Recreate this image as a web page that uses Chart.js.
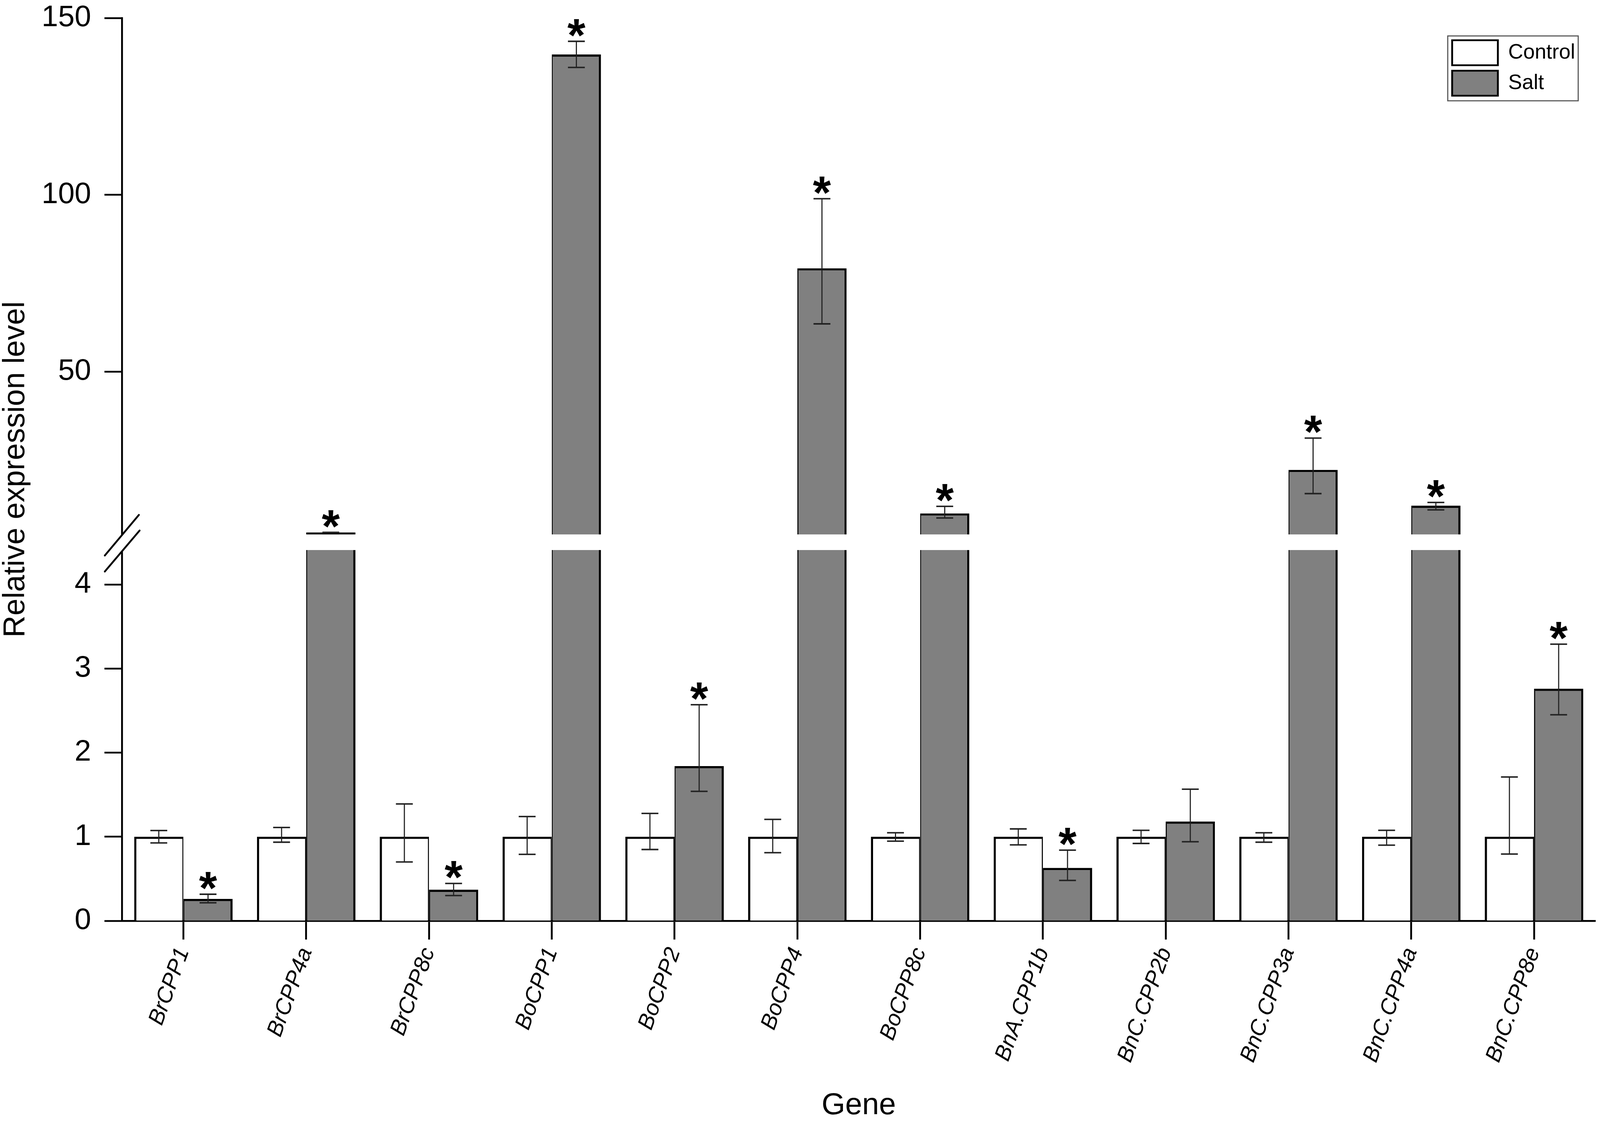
<!DOCTYPE html>
<html lang="en">
<head>
<meta charset="UTF-8">
<title>Relative expression level – Control vs Salt</title>
<script src="https://cdn.jsdelivr.net/npm/chart.js@4.4.0/dist/chart.umd.min.js"></script>
<style>
html,body{margin:0;padding:0;background:#fff;overflow:hidden}
#wrap{width:100vw;height:100vh;position:relative}
</style>
</head>
<body>
<div id="wrap"><canvas id="exprChart"></canvas></div>

<script>
/* ---------- data ---------- */
const genes = ['BrCPP1','BrCPP4a','BrCPP8c','BoCPP1','BoCPP2','BoCPP4','BoCPP8c',
               'BnA.CPP1b','BnC.CPP2b','BnC.CPP3a','BnC.CPP4a','BnC.CPP8e'];
const control        = [1, 1, 1, 1, 1, 1, 1, 1, 1, 1, 1, 1];
const controlErrUp   = [0.074, 0.11, 0.39, 0.24, 0.277, 0.206, 0.047, 0.093, 0.076, 0.047, 0.076, 0.71];
const controlErrDown = [0.074, 0.065, 0.30, 0.21, 0.152, 0.19, 0.053, 0.097, 0.08, 0.065, 0.10, 0.206];
const salt        = [0.26, 4.5, 0.37, 139.7, 1.84, 79.2, 9.9, 0.63, 1.18, 22.2, 12.1, 2.76];
const saltErrUp   = [0.056, 0.05, 0.074, 3.7, 0.73, 19.7, 2.0, 0.21, 0.385, 9.0, 0.9, 0.53];
const saltErrDown = [0.046, 0.05, 0.07, 3.7, 0.30, 15.7, 1.3, 0.15, 0.24, 6.7, 1.2, 0.31];
const saltSig     = [true, true, true, true, true, true, true, true, false, true, true, true];
const yTicks = [0, 1, 2, 3, 4, 50, 100, 150];
const yBreak = 4.4;            // y axis is broken just above this value

/* ---------- sizes are laid out for a 4550 x 2872 page, stretched to the window ---------- */
const kx = window.innerWidth/4550, ky = window.innerHeight/2872, kf = Math.sqrt(kx*ky);
const pxX = v => v*kx, pxY = v => v*ky, pxF = v => v*kf;

/* ---------- broken linear scale: 0-4.4 below, 4.4-150 above ---------- */
const LOW_PART = 0.4098, GAP_PART = 0.0199;   // share of the axis height
class BrokenScale extends Chart.LinearScale {
  buildTicks(){ return yTicks.map(v=>({value:v})); }
  cut(){
    const h = this.bottom - this.top;
    const lowTop = this.bottom - h*LOW_PART;
    return {lowTop, highBottom: lowTop - h*GAP_PART};
  }
  getPixelForValue(v){
    if (v === null || v === undefined || isNaN(v)) return NaN;
    const {lowTop, highBottom} = this.cut();
    if (v <= yBreak) return this.bottom - (v - this.min)/(yBreak - this.min)*(this.bottom - lowTop);
    return highBottom - (v - yBreak)/(this.max - yBreak)*(highBottom - this.top);
  }
  getValueForPixel(p){
    const {lowTop, highBottom} = this.cut();
    if (p >= lowTop) return this.min + (this.bottom - p)/(this.bottom - lowTop)*(yBreak - this.min);
    if (p >= highBottom) return yBreak;
    return yBreak + (highBottom - p)/(highBottom - this.top)*(this.max - yBreak);
  }
}
BrokenScale.id = 'broken';
BrokenScale.defaults = {};
Chart.register(BrokenScale);

const FONT = "'Liberation Sans', Arial, sans-serif";
Chart.defaults.font.family = FONT;
Chart.defaults.color = '#000';

/* ---------- break marks, error bars, asterisks, legend frame ---------- */
const extras = {
  id: 'extras',
  afterLayout(chart){
    // park the legend box in the upper right corner of the plot
    const lg = chart.legend, ca = chart.chartArea;
    if (!lg) return;
    lg.left = ca.right - pxX(423); lg.top = ca.top + pxY(43);
    lg.width = pxX(410); lg.height = pxY(183);
    lg.right = lg.left + lg.width; lg.bottom = lg.top + lg.height;
  },
  afterDatasetsDraw(chart){
    const {ctx, chartArea: ca} = chart;
    const y = chart.scales.y;
    const {lowTop, highBottom} = y.cut();
    const ax = ca.left, mid = (lowTop + highBottom)/2;
    ctx.save();
    // white gap through bars and the axis line
    ctx.fillStyle = '#fff';
    ctx.fillRect(ax + pxX(4), highBottom + pxY(4), ca.right - ax, lowTop - highBottom - pxY(6));
    ctx.fillRect(ax - pxX(8), mid - pxY(18), pxX(16), pxY(42));
    // "//" break marks
    ctx.strokeStyle = '#000'; ctx.lineWidth = pxF(5); ctx.lineCap = 'round';
    ctx.beginPath();
    ctx.moveTo(ax - pxX(49), mid + pxY(35)); ctx.lineTo(ax + pxX(48), mid - pxY(69));
    ctx.moveTo(ax - pxX(49), mid + pxY(76)); ctx.lineTo(ax + pxX(50), mid - pxY(29));
    ctx.stroke();
    ctx.lineCap = 'butt';

    // error bars
    const errBar = (x, v, up, down) => {
      const yTop = y.getPixelForValue(v + up), yBot = y.getPixelForValue(v - down);
      ctx.strokeStyle = '#222';
      ctx.lineWidth = pxF(3);
      ctx.beginPath(); ctx.moveTo(x, yTop); ctx.lineTo(x, yBot); ctx.stroke();
      ctx.lineWidth = pxF(4);
      ctx.beginPath();
      ctx.moveTo(x - pxX(24), yTop); ctx.lineTo(x + pxX(24), yTop);
      ctx.moveTo(x - pxX(24), yBot); ctx.lineTo(x + pxX(24), yBot);
      ctx.stroke();
      return yTop;
    };
    const cBars = chart.getDatasetMeta(0).data, sBars = chart.getDatasetMeta(1).data;
    ctx.font = 'bold ' + pxF(125) + 'px ' + FONT;
    ctx.textAlign = 'center'; ctx.textBaseline = 'alphabetic';
    const star = ctx.measureText('*');
    genes.forEach((g, i) => {
      errBar(cBars[i].x, control[i], controlErrUp[i], controlErrDown[i]);
      const top = errBar(sBars[i].x, salt[i], saltErrUp[i], saltErrDown[i]);
      if (saltSig[i]) {
        ctx.fillStyle = '#000';
        ctx.fillText('*', sBars[i].x, top - pxY(12) - star.actualBoundingBoxDescent);
      }
    });
    ctx.restore();
  },
  afterDraw(chart){
    const lg = chart.legend, ctx = chart.ctx;
    if (!lg) return;
    ctx.save();
    ctx.strokeStyle = '#555'; ctx.lineWidth = pxF(3);
    ctx.strokeRect(lg.left + pxX(3), lg.top + pxY(3), pxX(371), pxY(166));
    ctx.restore();
  }
};

/* ---------- chart ---------- */
const legendLabels = chart => Chart.defaults.plugins.legend.labels.generateLabels(chart)
  .map(l => Object.assign(l, {lineWidth: pxF(5), strokeStyle: '#000'}));

new Chart(document.getElementById('exprChart'), {
  type: 'bar',
  data: {
    labels: genes,
    datasets: [
      {label:'Control', data:control, backgroundColor:'#ffffff', borderColor:'#000',
       borderWidth:{top:pxF(6),left:pxF(6),right:pxF(3),bottom:0}, borderSkipped:false},
      {label:'Salt', data:salt, backgroundColor:'#808080', borderColor:'#000',
       borderWidth:{top:pxF(6),left:pxF(3),right:pxF(6),bottom:0}, borderSkipped:false}
    ]
  },
  options: {
    responsive: true, maintainAspectRatio: false, animation: false, events: [],
    layout: {padding: {top:pxY(46), right:pxX(13), bottom:0, left:0}},
    datasets: {bar: {categoryPercentage:0.802, barPercentage:1}},
    scales: {
      x: {
        grid: {offset:false, drawOnChartArea:false, drawTicks:true, tickLength:pxY(48),
               tickWidth:pxF(5), tickColor:'#000', color:'#000'},
        border: {display:true, width:pxF(5), color:'#000'},
        ticks: {autoSkip:false, minRotation:70, maxRotation:70, padding:pxY(12), color:'#000',
                font:{size:pxF(60), style:'italic'}},
        title: {display:true, text:'Gene', color:'#000',
                font:{size:pxF(82), lineHeight: pxY(82).toFixed(2) + 'px'},
                padding:{top:0, bottom:0}},
        afterFit: s => { s.height = pxY(515); s.paddingLeft = 0; s.paddingRight = 0; }
      },
      y: {
        type: 'broken', min: 0, max: 150,
        grid: {drawOnChartArea:false, drawTicks:true, tickLength:pxX(50), tickWidth:pxF(5),
               tickColor:'#000', color:'#000'},
        border: {display:true, width:pxF(5), color:'#000'},
        ticks: {autoSkip:false, padding:pxX(38), color:'#000', font:{size:pxF(80), lineHeight:1.1},
                callback: v => String(v)},
        title: {display:true, text:'Relative expression level', color:'#000',
                font:{size:pxF(82), lineHeight: pxX(91).toFixed(2) + 'px'},
                padding:{top:0, bottom:0}},
        afterFit: s => { s.width = pxX(347); s.paddingTop = 0; s.paddingBottom = 0; }
      }
    },
    plugins: {
      legend: {position:'chartArea', align:'start',
               labels:{boxWidth:pxX(130), boxHeight:pxY(64), padding:pxY(14), color:'#000',
                       font:{size:pxX(59)}, generateLabels: legendLabels}},
      tooltip: {enabled:false}
    }
  },
  plugins: [extras]
});
</script>
</body>
</html>
